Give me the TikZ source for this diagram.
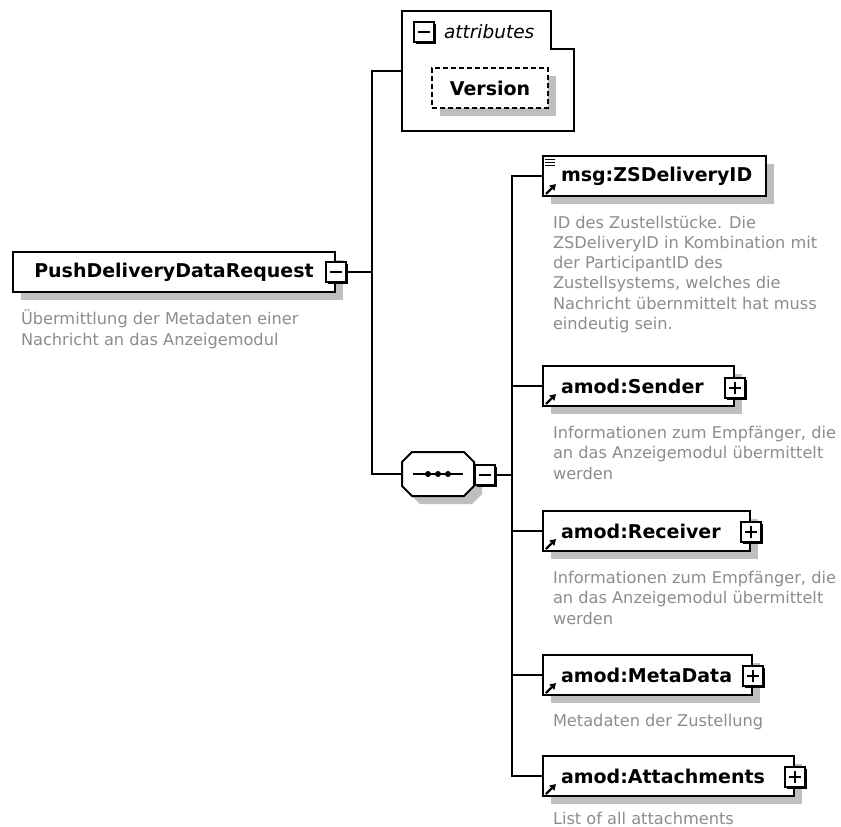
\documentclass[tikz,border=0pt]{standalone}
\usepackage{fontspec}
\setmainfont{DejaVu Sans}
\usetikzlibrary{shadows,arrows.meta}

\newcommand{\namefont}{\bfseries\fontsize{19}{22}\selectfont}
\newcommand{\notefont}{\fontsize{16.2}{20.3}\selectfont}

\begin{document}
\begin{tikzpicture}[x=1pt, y=-1pt, line width=2pt,
    boxshadow/.style={drop shadow={shadow xshift=8pt, shadow yshift=-8pt, fill=black!25, opacity=1}},
    rootbox/.style={draw, fill=white, boxshadow, inner sep=0pt, minimum height=40pt, font=\namefont},
    elembox/.style={rootbox, text width=#1, align=left,
        path picture={\draw[line width=2.2pt, -{Triangle[length=6pt, width=7pt]}]
            ([shift={(3pt,2pt)}]path picture bounding box.south west) -- ++(10pt,10pt);}},
    pmbox/.style={draw, fill=white, minimum size=20pt, inner sep=0pt,
        drop shadow={shadow xshift=2pt, shadow yshift=-2pt, fill=black, opacity=1}},
    minusbox/.style={pmbox, path picture={
        \draw ([xshift=4pt]path picture bounding box.west) -- ([xshift=-4pt]path picture bounding box.east);}},
    plusbox/.style={pmbox, path picture={
        \draw ([xshift=4pt]path picture bounding box.west) -- ([xshift=-4pt]path picture bounding box.east);
        \draw ([yshift=4pt]path picture bounding box.south) -- ([yshift=-4pt]path picture bounding box.north);}},
    note/.style={anchor=base west, inner sep=0pt, align=left, text=black!45, font=\notefont}]

    \useasboundingbox (0,0) rectangle (841,827);

    % root element
    \node[rootbox, minimum width=322pt] (root) at (174,272) {PushDeliveryDataRequest};
    \node[minusbox] (rootpm) at (root.east) {};
    % notes are anchored at the baseline of their last line
    \node[note] (rootnote) at ([xshift=8pt, yshift=-52pt]root.south west)
        {Übermittlung der Metadaten einer\\Nachricht an das Anzeigemodul};

    % attributes
    \node[minimum width=170pt, minimum height=118pt, inner sep=0pt] (attrs) at (488,71) {};
    \draw (attrs.south west) |- ([xshift=-23pt]attrs.north east)
        |- ([yshift=-38pt]attrs.north east) -- (attrs.south east) -- cycle;
    \node[minusbox] (attrpm) at (424,32) {};
    \node[anchor=west, inner sep=0pt, font=\itshape\fontsize{18.5}{20}\selectfont] (attrlabel)
        at ([xshift=8pt]attrpm.east) {attributes};
    \node[rootbox, dash pattern=on 5pt off 3pt, minimum width=116pt] (version) at (490,88) {Version};

    % sequence
    \node[minimum width=70pt, minimum height=42pt, inner sep=0pt] (seq) at (438,474) {};
    \path[draw, fill=white, boxshadow] ([xshift=10pt]seq.north west) -- ([xshift=-10pt]seq.north east)
        -- ([yshift=-10pt]seq.north east) -- ([yshift=10pt]seq.south east)
        -- ([xshift=-10pt]seq.south east) -- ([xshift=10pt]seq.south west)
        -- ([yshift=10pt]seq.south west) -- ([yshift=-10pt]seq.north west) -- cycle;
    \draw (seq.center) ++(-25,0) -- ++(50,0);
    \foreach \dx in {-10,0,10}
        \fill ([xshift=\dx pt]seq.center) circle (3pt);
    \node[minusbox, anchor=west] (seqpm) at ([yshift=-1pt]seq.east) {};

    % child elements
    \node[elembox=223pt, anchor=west] (zsid) at (542,176) {\hspace*{18pt}msg:ZSDeliveryID};
    \foreach \dy in {4,7,10}
        \draw[line width=1pt] ([shift={(3pt,-\dy pt)}]zsid.north west) -- ++(10pt,0pt);
    \node[note] (zsidnote) at ([xshift=10pt, yshift=-132.5pt]zsid.south west)
        {ID des Zustellstücke. Die\\ZSDeliveryID in Kombination mit\\der ParticipantID des\\Zustellsystems, welches die\\Nachricht übernmittelt hat muss\\eindeutig sein.};

    \node[elembox=191pt, anchor=west] (sender) at (542,386) {\hspace*{18pt}amod:Sender};
    \node[plusbox] (senderpm) at ([yshift=-2pt]sender.east) {};
    \node[note] (sendernote) at ([xshift=10pt, yshift=-72pt]sender.south west)
        {Informationen zum Empfänger, die\\an das Anzeigemodul übermittelt\\werden};

    \node[elembox=207pt, anchor=west] (receiver) at (542,531) {\hspace*{18pt}amod:Receiver};
    \node[plusbox] (receiverpm) at ([yshift=-1pt]receiver.east) {};
    \node[note] (receivernote) at ([xshift=10pt, yshift=-72pt]receiver.south west)
        {Informationen zum Empfänger, die\\an das Anzeigemodul übermittelt\\werden};

    \node[elembox=209pt, anchor=west] (metadata) at (542,675) {\hspace*{18pt}amod:MetaData};
    \node[plusbox] (metadatapm) at ([yshift=-1pt]metadata.east) {};
    \node[note] (metadatanote) at ([xshift=10pt, yshift=-30pt]metadata.south west)
        {Metadaten der Zustellung};

    \node[elembox=251pt, anchor=west] (attach) at (542,776) {\hspace*{18pt}amod:Attachments};
    \node[plusbox] (attachpm) at ([yshift=-1pt]attach.east) {};
    \node[note] (attachnote) at ([xshift=10pt, yshift=-27pt]attach.south west)
        {List of all attachments};

    % connectors
    \coordinate (trunk) at (372,272);
    \draw (rootpm.east) -- (trunk) |- (attrs.west);
    \draw (trunk) |- (seq.west);
    \coordinate (spine) at (512,475);
    \draw (seqpm.east) -- (spine);
    \foreach \n in {zsid,sender,receiver,metadata,attach}
        \draw (spine) |- (\n.west);

\end{tikzpicture}
\end{document}
